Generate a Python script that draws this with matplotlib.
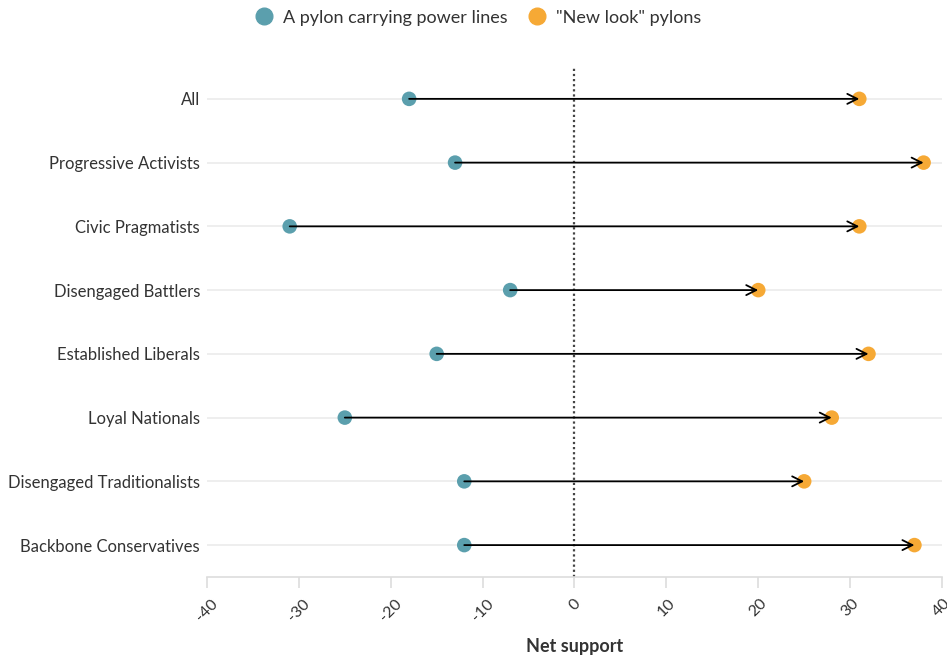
import matplotlib.pyplot as plt
from matplotlib.lines import Line2D

plt.rcParams['font.family'] = ['Lato', 'DejaVu Sans']

groups = ["All", "Progressive Activists", "Civic Pragmatists", "Disengaged Battlers",
          "Established Liberals", "Loyal Nationals", "Disengaged Traditionalists",
          "Backbone Conservatives"]
pylon = [-18, -13, -31, -7, -15, -25, -12, -12]
new_look = [31, 38, 31, 20, 32, 28, 25, 37]
xticks = [-40, -30, -20, -10, 0, 10, 20, 30, 40]

blue = "#5b9fad"
orange = "#f6a935"
txt = "#333333"

fig = plt.figure(figsize=(9.47, 6.6), dpi=100)
ax = fig.add_axes([0.2186, 0.1258, 0.7761, 0.7727])

ypos = list(range(len(groups)))
for y in ypos:
    ax.axhline(y, color="#ebebeb", lw=1.2, zorder=0)

ax.axvline(0, color="#444444", lw=1.6, ls=(0, (1, 1.3)), zorder=1)

ax.scatter(pylon, ypos, s=110, color=blue, zorder=2, edgecolors="none")
ax.scatter(new_look, ypos, s=110, color=orange, zorder=2, edgecolors="none")

for y, a, b in zip(ypos, pylon, new_look):
    ax.annotate("", xy=(b, y), xytext=(a, y),
                arrowprops=dict(arrowstyle="->", color="black", lw=1.3,
                                shrinkA=0, shrinkB=0, mutation_scale=18),
                zorder=3)

ax.set_xlim(-40, 40)
ax.set_ylim(len(groups) - 0.5, -0.5)
ax.set_yticks(ypos)
ax.set_yticklabels(groups, fontsize=12, color=txt)
ax.tick_params(axis="y", length=0, pad=5)
ax.set_xticks(xticks)
ax.set_xticklabels([str(t) for t in xticks], rotation=45, ha="center",
                   fontsize=11.5, color=txt)
ax.tick_params(axis="x", length=8, color="#dddddd", width=1.2, pad=6)

for s in ["left", "right", "top"]:
    ax.spines[s].set_visible(False)
ax.spines["bottom"].set_color("#dddddd")
ax.spines["bottom"].set_linewidth(1.2)

ax.set_xlabel("Net support", fontsize=13, fontweight="bold", color=txt, labelpad=10)

handles = [Line2D([], [], marker="o", ls="", color=blue, markersize=12),
           Line2D([], [], marker="o", ls="", color=orange, markersize=12)]
fig.legend(handles, ["A pylon carrying power lines", '"New look" pylons'],
           loc="upper center", bbox_to_anchor=(0.5, 1.01), ncol=2, frameon=False,
           fontsize=13, handletextpad=0.05, columnspacing=0.6, labelcolor=txt)

fig.savefig("out.png", dpi=100)
